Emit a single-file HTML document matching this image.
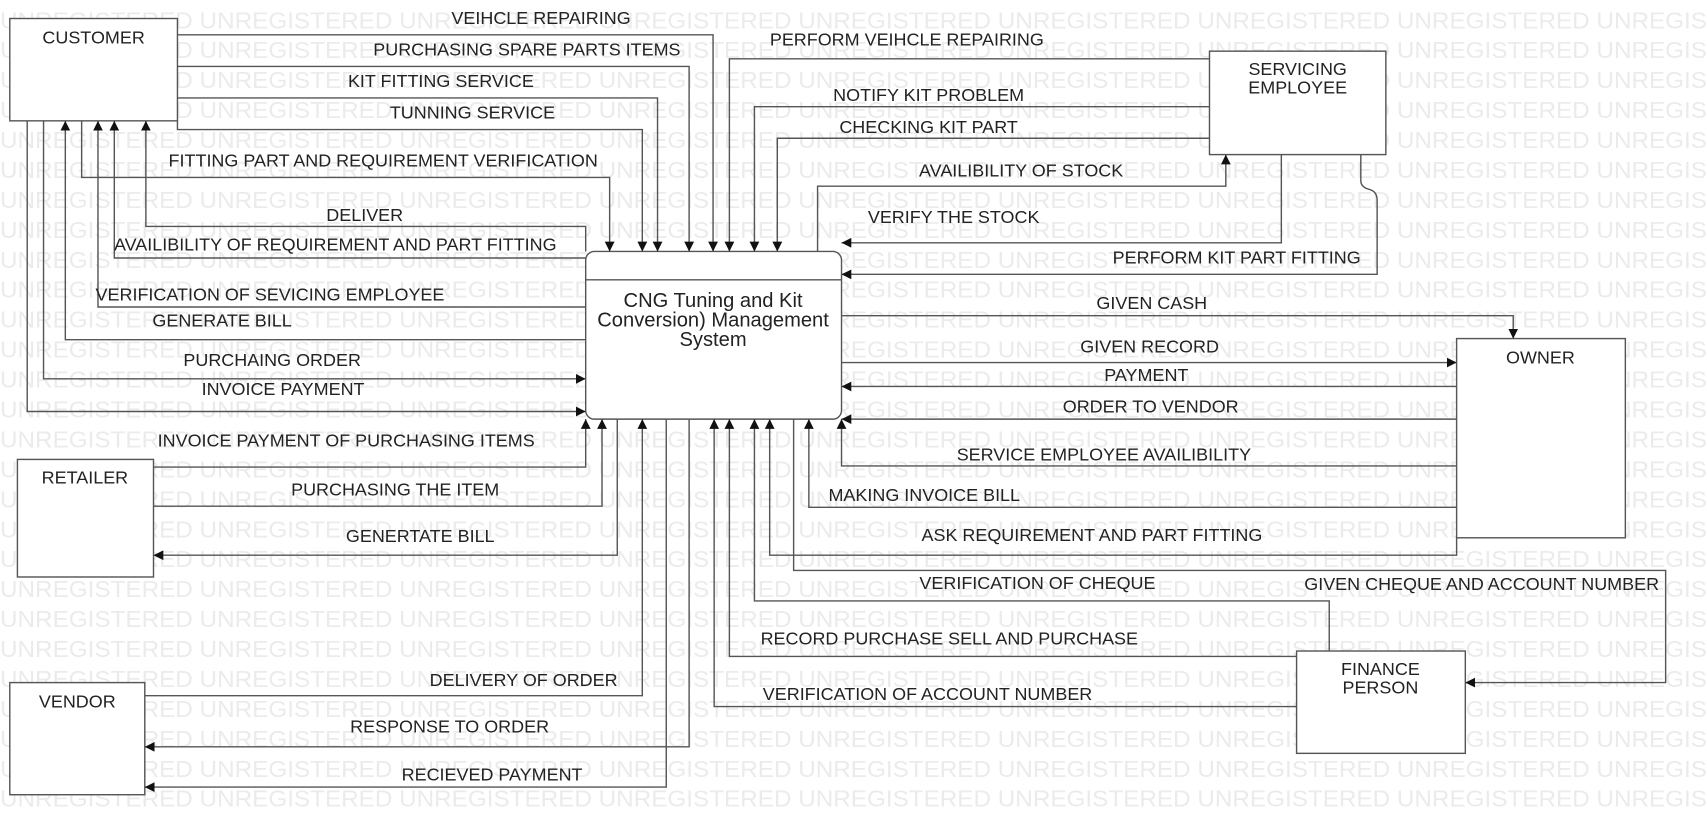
<!DOCTYPE html>
<html><head><meta charset="utf-8"><style>
html,body{margin:0;padding:0;background:#fff;}
svg{display:block;}
text{font-family:"Liberation Sans",sans-serif;}
</style></head><body>
<svg width="1707" height="835" viewBox="0 0 1568 767" preserveAspectRatio="none" xmlns="http://www.w3.org/2000/svg">
<defs>
<marker id="a" markerUnits="userSpaceOnUse" markerWidth="10" markerHeight="10" refX="9" refY="4.5" orient="auto">
<path d="M0,0 L9,4.5 L0,9 Z" fill="#111"/>
</marker>
</defs>
<g fill="#ebebeb" font-size="21">
<text x="0" y="26" textLength="1568" lengthAdjust="spacingAndGlyphs">UNREGISTERED UNREGISTERED UNREGISTERED UNREGISTERED UNREGISTERED UNREGISTERED UNREGISTERED UNREGISTERED UNREGIS</text>
<text x="0" y="53.5" textLength="1568" lengthAdjust="spacingAndGlyphs">UNREGISTERED UNREGISTERED UNREGISTERED UNREGISTERED UNREGISTERED UNREGISTERED UNREGISTERED UNREGISTERED UNREGIS</text>
<text x="0" y="81" textLength="1568" lengthAdjust="spacingAndGlyphs">UNREGISTERED UNREGISTERED UNREGISTERED UNREGISTERED UNREGISTERED UNREGISTERED UNREGISTERED UNREGISTERED UNREGIS</text>
<text x="0" y="108.5" textLength="1568" lengthAdjust="spacingAndGlyphs">UNREGISTERED UNREGISTERED UNREGISTERED UNREGISTERED UNREGISTERED UNREGISTERED UNREGISTERED UNREGISTERED UNREGIS</text>
<text x="0" y="136" textLength="1568" lengthAdjust="spacingAndGlyphs">UNREGISTERED UNREGISTERED UNREGISTERED UNREGISTERED UNREGISTERED UNREGISTERED UNREGISTERED UNREGISTERED UNREGIS</text>
<text x="0" y="163.5" textLength="1568" lengthAdjust="spacingAndGlyphs">UNREGISTERED UNREGISTERED UNREGISTERED UNREGISTERED UNREGISTERED UNREGISTERED UNREGISTERED UNREGISTERED UNREGIS</text>
<text x="0" y="191" textLength="1568" lengthAdjust="spacingAndGlyphs">UNREGISTERED UNREGISTERED UNREGISTERED UNREGISTERED UNREGISTERED UNREGISTERED UNREGISTERED UNREGISTERED UNREGIS</text>
<text x="0" y="218.5" textLength="1568" lengthAdjust="spacingAndGlyphs">UNREGISTERED UNREGISTERED UNREGISTERED UNREGISTERED UNREGISTERED UNREGISTERED UNREGISTERED UNREGISTERED UNREGIS</text>
<text x="0" y="246" textLength="1568" lengthAdjust="spacingAndGlyphs">UNREGISTERED UNREGISTERED UNREGISTERED UNREGISTERED UNREGISTERED UNREGISTERED UNREGISTERED UNREGISTERED UNREGIS</text>
<text x="0" y="273.5" textLength="1568" lengthAdjust="spacingAndGlyphs">UNREGISTERED UNREGISTERED UNREGISTERED UNREGISTERED UNREGISTERED UNREGISTERED UNREGISTERED UNREGISTERED UNREGIS</text>
<text x="0" y="301" textLength="1568" lengthAdjust="spacingAndGlyphs">UNREGISTERED UNREGISTERED UNREGISTERED UNREGISTERED UNREGISTERED UNREGISTERED UNREGISTERED UNREGISTERED UNREGIS</text>
<text x="0" y="328.5" textLength="1568" lengthAdjust="spacingAndGlyphs">UNREGISTERED UNREGISTERED UNREGISTERED UNREGISTERED UNREGISTERED UNREGISTERED UNREGISTERED UNREGISTERED UNREGIS</text>
<text x="0" y="356" textLength="1568" lengthAdjust="spacingAndGlyphs">UNREGISTERED UNREGISTERED UNREGISTERED UNREGISTERED UNREGISTERED UNREGISTERED UNREGISTERED UNREGISTERED UNREGIS</text>
<text x="0" y="383.5" textLength="1568" lengthAdjust="spacingAndGlyphs">UNREGISTERED UNREGISTERED UNREGISTERED UNREGISTERED UNREGISTERED UNREGISTERED UNREGISTERED UNREGISTERED UNREGIS</text>
<text x="0" y="411" textLength="1568" lengthAdjust="spacingAndGlyphs">UNREGISTERED UNREGISTERED UNREGISTERED UNREGISTERED UNREGISTERED UNREGISTERED UNREGISTERED UNREGISTERED UNREGIS</text>
<text x="0" y="438.5" textLength="1568" lengthAdjust="spacingAndGlyphs">UNREGISTERED UNREGISTERED UNREGISTERED UNREGISTERED UNREGISTERED UNREGISTERED UNREGISTERED UNREGISTERED UNREGIS</text>
<text x="0" y="466" textLength="1568" lengthAdjust="spacingAndGlyphs">UNREGISTERED UNREGISTERED UNREGISTERED UNREGISTERED UNREGISTERED UNREGISTERED UNREGISTERED UNREGISTERED UNREGIS</text>
<text x="0" y="493.5" textLength="1568" lengthAdjust="spacingAndGlyphs">UNREGISTERED UNREGISTERED UNREGISTERED UNREGISTERED UNREGISTERED UNREGISTERED UNREGISTERED UNREGISTERED UNREGIS</text>
<text x="0" y="521" textLength="1568" lengthAdjust="spacingAndGlyphs">UNREGISTERED UNREGISTERED UNREGISTERED UNREGISTERED UNREGISTERED UNREGISTERED UNREGISTERED UNREGISTERED UNREGIS</text>
<text x="0" y="548.5" textLength="1568" lengthAdjust="spacingAndGlyphs">UNREGISTERED UNREGISTERED UNREGISTERED UNREGISTERED UNREGISTERED UNREGISTERED UNREGISTERED UNREGISTERED UNREGIS</text>
<text x="0" y="576" textLength="1568" lengthAdjust="spacingAndGlyphs">UNREGISTERED UNREGISTERED UNREGISTERED UNREGISTERED UNREGISTERED UNREGISTERED UNREGISTERED UNREGISTERED UNREGIS</text>
<text x="0" y="603.5" textLength="1568" lengthAdjust="spacingAndGlyphs">UNREGISTERED UNREGISTERED UNREGISTERED UNREGISTERED UNREGISTERED UNREGISTERED UNREGISTERED UNREGISTERED UNREGIS</text>
<text x="0" y="631" textLength="1568" lengthAdjust="spacingAndGlyphs">UNREGISTERED UNREGISTERED UNREGISTERED UNREGISTERED UNREGISTERED UNREGISTERED UNREGISTERED UNREGISTERED UNREGIS</text>
<text x="0" y="658.5" textLength="1568" lengthAdjust="spacingAndGlyphs">UNREGISTERED UNREGISTERED UNREGISTERED UNREGISTERED UNREGISTERED UNREGISTERED UNREGISTERED UNREGISTERED UNREGIS</text>
<text x="0" y="686" textLength="1568" lengthAdjust="spacingAndGlyphs">UNREGISTERED UNREGISTERED UNREGISTERED UNREGISTERED UNREGISTERED UNREGISTERED UNREGISTERED UNREGISTERED UNREGIS</text>
<text x="0" y="713.5" textLength="1568" lengthAdjust="spacingAndGlyphs">UNREGISTERED UNREGISTERED UNREGISTERED UNREGISTERED UNREGISTERED UNREGISTERED UNREGISTERED UNREGISTERED UNREGIS</text>
<text x="0" y="741" textLength="1568" lengthAdjust="spacingAndGlyphs">UNREGISTERED UNREGISTERED UNREGISTERED UNREGISTERED UNREGISTERED UNREGISTERED UNREGISTERED UNREGISTERED UNREGIS</text>
</g>

<g fill="#fff" stroke="#555" stroke-width="1.3">
<rect x="9" y="17" width="154" height="94"/>
<rect x="538" y="231" width="235" height="154" rx="8"/>
<rect x="1111" y="47" width="162" height="95"/>
<rect x="1338" y="311" width="155" height="183"/>
<rect x="16" y="422" width="125" height="108"/>
<rect x="9" y="627" width="124" height="103"/>
<rect x="1191" y="598" width="155" height="94"/>
</g>
<line x1="538" y1="257" x2="773" y2="257" stroke="#555" stroke-width="1.3"/>

<g fill="none" stroke="#555" stroke-width="1.3" marker-end="url(#a)">
<polyline points="163,32 655,32 655,231"/>
<polyline points="163,61 633,61 633,231"/>
<polyline points="163,90 604,90 604,231"/>
<polyline points="163,111 163,119 590,119 590,231"/>
<polyline points="75,111 75,163 560,163 560,231"/>
<polyline points="538,231 538,208 134,208 134,111"/>
<polyline points="538,237 105,237 105,111"/>
<polyline points="538,282 90,282 90,111"/>
<polyline points="538,312 60,312 60,111"/>
<polyline points="40,111 40,348 538,348"/>
<polyline points="25,111 25,378 538,378"/>

<polyline points="1111,54 670,54 670,231"/>
<polyline points="1111,98 693,98 693,231"/>
<polyline points="1111,127 714,127 714,231"/>
<polyline points="751,231 751,171 1126,171 1126,142"/>
<polyline points="1177,142 1177,223 773,223"/>
<path d="M1250,142 L1250,166 Q1250,172 1258,174 Q1265,176 1265,184 L1265,252 L773,252"/>

<polyline points="773,290 1390,290 1390,311"/>
<polyline points="773,333 1338,333"/>
<polyline points="1338,355 773,355"/>
<polyline points="1338,385 773,385"/>
<polyline points="1338,428 773,428 773,385"/>
<polyline points="1338,466 743,466 743,385"/>
<polyline points="1338,494 1338,510 707,510 707,385"/>
<polyline points="729,385 729,524 1530,524 1530,627 1346,627"/>

<polyline points="1221,598 1221,552 693,552 693,385"/>
<polyline points="1191,603 670,603 670,385"/>
<polyline points="1191,649 656,649 656,385"/>

<polyline points="141,429 538,429 538,385"/>
<polyline points="141,465 553,465 553,385"/>
<polyline points="567,385 567,510 141,510"/>

<polyline points="133,639 590,639 590,385"/>
<polyline points="633,385 633,686 133,686"/>
<polyline points="612,385 612,723 133,723"/>
</g>

<g fill="#222" font-size="16.5" text-anchor="middle">
<text x="86" y="40">CUSTOMER</text>
<text x="1192" y="69">SERVICING</text>
<text x="1192" y="86">EMPLOYEE</text>
<text x="1415" y="334">OWNER</text>
<text x="78" y="444">RETAILER</text>
<text x="71" y="650">VENDOR</text>
<text x="1268" y="620">FINANCE</text>
<text x="1268" y="637">PERSON</text>
<g font-size="18.5">
<text x="655" y="282">CNG Tuning and Kit</text>
<text x="655" y="300">Conversion) Management</text>
<text x="655" y="318">System</text>
</g>

<text x="497" y="22">VEIHCLE REPAIRING</text>
<text x="484" y="51">PURCHASING SPARE PARTS ITEMS</text>
<text x="405" y="80">KIT FITTING SERVICE</text>
<text x="434" y="109">TUNNING SERVICE</text>
<text x="352" y="153">FITTING PART AND REQUIREMENT VERIFICATION</text>
<text x="335" y="203">DELIVER</text>
<text x="308" y="230">AVAILIBILITY OF REQUIREMENT AND PART FITTING</text>
<text x="248" y="276">VERIFICATION OF SEVICING EMPLOYEE</text>
<text x="204" y="300">GENERATE BILL</text>
<text x="250" y="336">PURCHAING ORDER</text>
<text x="260" y="363">INVOICE PAYMENT</text>

<text x="833" y="42">PERFORM VEIHCLE REPAIRING</text>
<text x="853" y="93">NOTIFY  KIT PROBLEM</text>
<text x="853" y="122">CHECKING KIT PART</text>
<text x="938" y="162">AVAILIBILITY OF STOCK</text>
<text x="876" y="205">VERIFY THE STOCK</text>
<text x="1136" y="242">PERFORM KIT PART FITTING</text>

<text x="1058" y="284">GIVEN CASH</text>
<text x="1056" y="324">GIVEN RECORD</text>
<text x="1053" y="350">PAYMENT</text>
<text x="1057" y="379">ORDER TO VENDOR</text>
<text x="1014" y="423">SERVICE EMPLOYEE AVAILIBILITY</text>
<text x="849" y="460">MAKING INVOICE BILL</text>
<text x="1003" y="497">ASK REQUIREMENT AND PART FITTING</text>
<text x="1361" y="542">GIVEN CHEQUE AND ACCOUNT NUMBER</text>
<text x="953" y="541">VERIFICATION OF CHEQUE</text>
<text x="872" y="592">RECORD PURCHASE SELL AND PURCHASE</text>
<text x="852" y="643">VERIFICATION OF ACCOUNT NUMBER</text>

<text x="318" y="410">INVOICE PAYMENT OF PURCHASING ITEMS</text>
<text x="363" y="455">PURCHASING THE ITEM</text>
<text x="386" y="498">GENERTATE BILL</text>
<text x="481" y="630">DELIVERY OF ORDER</text>
<text x="413" y="673">RESPONSE TO ORDER</text>
<text x="452" y="717">RECIEVED PAYMENT</text>
</g>
</svg>
</body></html>
